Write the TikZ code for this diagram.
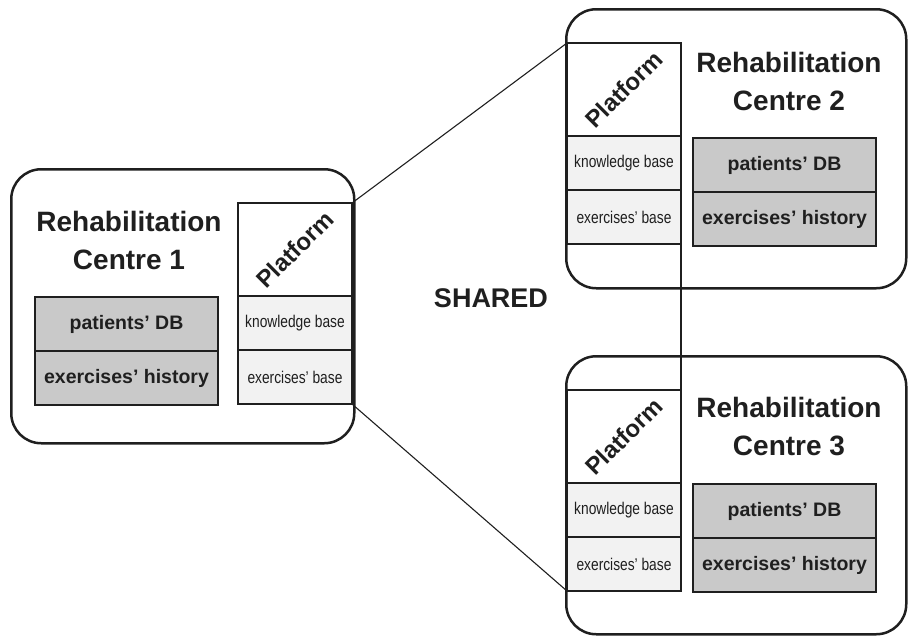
\documentclass[tikz,border=0pt]{standalone}
\usepackage{fontspec}
\setmainfont{Liberation Sans}
\newfontfamily\narrowfont{Liberation Sans}[FakeStretch=0.81]
\usepackage{graphicx}
\usetikzlibrary{positioning}
\definecolor{dbgrey}{gray}{0.79}
\definecolor{kbgrey}{gray}{0.95}
\definecolor{ink}{gray}{0.12}

\begin{document}
\begin{tikzpicture}[x=1pt, y=-1pt,
      centre/.style ={draw=ink, line width=2.5pt, rounded corners=30pt, anchor=north west},
      title/.style ={text=ink, align=center, font=\fontsize{28}{38}\selectfont\bfseries},
      platbox/.style ={draw=ink, line width=1.3pt, fill=white, outer sep=0pt, inner sep=0pt,
                       minimum width=114pt, minimum height=93pt, text=ink,
                       font=\fontsize{24}{24}\selectfont\bfseries},
      kbbox/.style ={draw=ink, line width=1.3pt, fill=kbgrey, outer sep=0pt, inner sep=0pt,
                     minimum width=114pt, minimum height=54pt, text=ink,
                     font=\narrowfont\fontsize{17}{17}\selectfont},
      dbbox/.style ={draw=ink, line width=1.3pt, fill=dbgrey, outer sep=0pt, inner sep=0pt,
                     minimum width=183pt, minimum height=54pt, text=ink,
                     font=\fontsize{19.5}{20}\selectfont\bfseries},
      link/.style ={draw=ink, line width=1.1pt}
    ]
    \useasboundingbox (0,0) rectangle (908,635);

    \node [centre, minimum width=343pt, minimum height=274pt] (rc1) at (10,168) {};
    \node [centre, minimum width=340pt, minimum height=279pt] (rc2) at (565,8) {};
    \node [centre, minimum width=340pt, minimum height=278pt] (rc3) at (565,355) {};

    \node [title] (t1) at (129,240) {Rehabilitation\\Centre 1};
    \node [title] (t2) at (789,81) {Rehabilitation\\Centre 2};
    \node [title] (t3) at (789,427) {Rehabilitation\\Centre 3};

    \node [platbox, anchor=north west] (plat1) at (238,203) {\rotatebox{45}{Platform}};
    \node [kbbox] (kb1) [below=0pt of plat1] {knowledge base};
    \node [kbbox] (eb1) [below=0pt of kb1] {exercises’ base};

    \node [platbox, anchor=north west] (plat2) at (567,43) {\rotatebox{45}{Platform}};
    \node [kbbox] (kb2) [below=0pt of plat2] {knowledge base};
    \node [kbbox] (eb2) [below=0pt of kb2] {exercises’ base};

    \node [platbox, anchor=north west] (plat3) at (567,390) {\rotatebox{45}{Platform}};
    \node [kbbox] (kb3) [below=0pt of plat3] {knowledge base};
    \node [kbbox] (eb3) [below=0pt of kb3] {exercises’ base};

    \node [dbbox, anchor=north west] (db1) at (35,297) {patients’ DB};
    \node [dbbox] (hist1) [below=0pt of db1] {exercises’ history};
    \node [dbbox, anchor=north west] (db2) at (693,138) {patients’ DB};
    \node [dbbox] (hist2) [below=0pt of db2] {exercises’ history};
    \node [dbbox, anchor=north west] (db3) at (693,484) {patients’ DB};
    \node [dbbox] (hist3) [below=0pt of db3] {exercises’ history};

    \node [title, font=\fontsize{27}{30}\selectfont\bfseries] (shared) at (491,298) {SHARED};

    \draw [link] (plat1.north east) -- (plat2.north west);
    \draw [link] (eb1.south east) -- (eb3.south west);
    \draw [link] (eb2.south east) -- (plat3.north east);
  \end{tikzpicture}
\end{document}
